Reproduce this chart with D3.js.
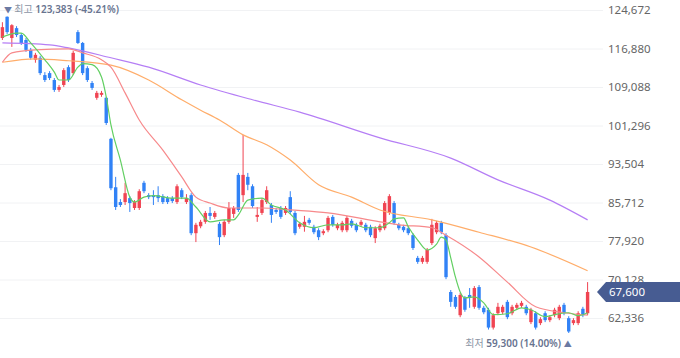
<!DOCTYPE html>
<html><head><meta charset="utf-8">
<script src="https://cdn.jsdelivr.net/npm/d3@7"></script>
<style>html,body{margin:0;padding:0;background:#fff;} svg{display:block;}</style>
</head><body><svg id="c" width="680" height="358"></svg>
<script>
// ---- data (daily candles, oldest -> newest) ----
const open = [
119000,123300,119000,121000,119600,118600,116600,114600,115000,111500,
111900,110500,108500,109500,113100,111900,120200,118000,112900,109900,
106900,107500,106900,98600,88800,85800,85800,86600,84600,84600,
89700,87200,87200,87200,87000,86600,86600,85800,88200,85800,
87200,79500,80900,81800,83600,82800,81400,79100,81800,83400,
91300,87200,90900,89000,82800,83600,85800,85200,84200,84600,
83600,86800,83600,80800,80800,82200,80800,80100,79500,80100,
82800,80500,80100,80100,82000,81200,81200,81200,80800,78500,
80100,80500,83600,85600,81200,80800,80500,79100,74500,73700,
73700,77500,79700,81600,79100,67600,66600,62900,66400,67000,
64600,68600,64400,64000,60400,63300,63500,65600,63300,64400,
64800,64600,61500,63300,61300,63300,61900,62900,62300,65000,
62300,61300,61300,64200,63300];
const close = [
121200,120200,121600,119600,118000,116600,115000,115600,111900,110500,
110900,108500,109100,112500,110500,116000,118000,111900,110500,108900,
107900,107900,101800,88600,84800,85200,87600,85600,85800,88000,
88000,86800,86800,86600,85800,85800,86000,89000,86800,86600,
79500,81200,81800,83600,83000,83600,78700,81800,84600,84600,
84200,91300,89300,85000,83200,86200,88200,83200,83800,82800,
84600,83800,79500,81400,81800,81600,79700,78700,79900,82600,
81200,81200,81600,82600,81000,80100,81800,80100,79100,80500,
81000,85600,87000,81600,80500,80100,79500,76500,73700,74500,
76100,81200,81600,79700,70600,65600,64600,67000,64000,66400,
68400,64400,63500,60400,62900,64600,64600,62500,64600,65000,
65400,63300,64000,60400,62100,61900,62500,64000,64600,63300,
59600,61900,63300,62900,67600];
const high = [
122200,123383,121800,121400,120000,119000,117000,116000,115400,112100,
112300,110900,109500,112900,113500,116400,120600,118200,113300,110300,
108300,108300,107100,98800,90900,86400,89700,87000,86200,88400,
90100,87600,88200,89000,87400,87000,87000,89400,88600,87400,
87600,81600,82200,84000,84800,84000,81800,82200,85800,85000,
91700,99400,91700,89400,84800,86600,89000,85600,84600,85000,
85000,88000,84000,81800,83000,82600,81200,80500,80300,83000,
83200,81600,82000,83000,82400,81600,82200,81600,81200,80900,
81400,86000,87400,86000,81600,81200,80900,79500,74900,74900,
76500,82400,82000,82000,79500,68000,67000,67400,66800,68400,
68800,69000,64800,64400,63300,65400,65000,66000,65000,65400,
65800,65000,64400,63700,62500,63700,62900,64400,65000,65400,
62700,62300,63700,64600,69600];
const low = [
118600,119800,117200,119200,117600,116200,114600,114000,111500,110100,
110500,108100,108100,109100,110100,111500,117800,111500,110100,108500,
106500,107100,101400,88200,84200,84800,85200,83800,84200,84200,
87600,86400,85200,85800,85400,85400,85600,85400,86400,85400,
79100,77700,80500,81400,82200,82400,77100,78700,81400,82600,
83800,85800,88200,84600,81800,83200,85400,81600,83400,82400,
83200,83400,79100,80400,79800,81200,79300,78100,79100,79700,
80800,80100,79700,79700,80600,79700,80800,79700,78700,77500,
79700,80100,83200,81200,80100,79700,79100,76100,73300,73300,
73300,77100,79300,79300,70200,64600,64200,62500,63600,64400,
64200,64000,63100,60000,60000,62900,63100,62100,62900,64000,
64400,62900,61100,60000,60900,61500,61500,62500,61900,62900,
59300,60900,60900,62500,62900];

// moving averages: [candle index, value]
const ma5 = [[0,119200],[3,120000],[4,120000],[6,118000],[9,114600],[11,112100],[12,110500],[14,110500],
[16,113100],[17,113800],[19,113600],[21,111100],[22,107100],[23,101400],[25,94300],[27,86800],[28,85800],
[30,86800],[32,87100],[36,86600],[39,86600],[41,84800],[44,81800],[47,82200],[49,82200],[50,83200],
[52,86200],[55,86600],[57,85200],[60,84200],[63,81600],[66,80600],[69,81200],[72,81200],[74,81400],
[77,80600],[80,80600],[82,81600],[83,82400],[85,82600],[86,80800],[88,78100],[90,76100],[92,77300],
[93,78700],[94,78100],[95,74500],[96,70600],[97,67600],[98,66400],[100,66600],[102,65400],[104,63000],
[107,63200],[110,64400],[112,64000],[115,62600],[117,63000],[120,63400],[122,62800],[124,63400]];
const ma20 = [[0,114100],[2,116000],[7,116600],[14,116800],[17,116000],[21,114600],[23,113100],[26,107900],
[29,102400],[34,96300],[38,90900],[41,86800],[44,85600],[48,84600],[55,84600],[61,84200],[69,83600],
[80,81800],[84,81200],[91,80600],[94,79100],[101,74700],[107,69600],[113,64600],[119,63400],[124,62900]];
const ma60 = [[0,114100],[7,114800],[14,114400],[23,113500],[31,110500],[38,106500],[42,104400],[46,102400],
[51,99400],[56,97400],[61,94300],[67,89300],[74,86800],[80,84200],[91,82200],[101,79700],[112,76700],[124,71900]];
const ma120 = [[0,118000],[10,117600],[14,117000],[23,115000],[31,113100],[42,109500],[53,106500],[63,104000],
[80,98800],[95,94700],[105,90300],[116,86200],[124,82200]];

const tickValues = [124672,116880,109088,101296,93504,85712,77920,70128,62336];
const lastPrice = 67600;
const highIndex = 1, highLabel = "최고", highText = "123,383 (-45.21%)";
const lowIndex = 120, lowLabel = "최저", lowText = "59,300 (14.00%)";

// ---- drawing ----
const UP = "#f04452", DOWN = "#3182f6";
const FONT = "'Noto Sans','Noto Sans CJK KR',sans-serif";
const svg = d3.select("#c");
svg.append("rect").attr("width",680).attr("height",358).attr("fill","#fff");

const idx = d3.range(open.length);
const x = d3.scalePoint().domain(idx).range([2.4, 587.6]);
const y = d3.scaleLinear().domain([62336,124672]).range([318,10]);

const axis = d3.axisRight(y).tickValues(tickValues).tickSize(603).tickPadding(5)
  .tickFormat(d3.format(","));
const ga = svg.append("g").call(axis);
ga.select(".domain").remove();
ga.selectAll(".tick line").attr("stroke","#f1f2f4");
ga.selectAll(".tick text").attr("fill","#666").attr("font-size","11.5px")
  .attr("font-family",FONT);

const cg = svg.append("g");
idx.forEach(i=>{
  const col = close[i] >= open[i] ? UP : DOWN;
  cg.append("line").attr("x1",x(i)).attr("x2",x(i)).attr("y1",y(high[i])).attr("y2",y(low[i]))
    .attr("stroke",col).attr("stroke-width",1);
  const yt = y(Math.max(open[i],close[i])), yb = y(Math.min(open[i],close[i]));
  cg.append("rect").attr("x",x(i)-1.7).attr("width",3.4).attr("y",yt)
    .attr("height",Math.max(1,yb-yt)).attr("fill",col);
});

const line = d3.line().x(d=>x(d[0])).y(d=>y(d[1])).curve(d3.curveMonotoneX);
[[ma120,"#b57ef5"],[ma60,"#ffad6a"],[ma20,"#f7898b"],[ma5,"#62cf62"]].forEach(([d,c])=>{
  svg.append("path").datum(d).attr("d",line).attr("fill","none").attr("stroke",c).attr("stroke-width",1.2);
});

// high annotation
const th = svg.append("text").attr("x",x(highIndex)-3).attr("y",9.5).attr("dy","0.35em")
  .attr("font-family",FONT).attr("font-size","10px");
th.append("tspan").text("▼ ").attr("fill","#6b7aa3").attr("font-size","8px");
th.append("tspan").text(highLabel+" ").attr("fill","#8b95a5");
th.append("tspan").text(highText).attr("fill","#67738f").attr("font-weight",600);

// low annotation
const tl = svg.append("text").attr("x",x(lowIndex)+3).attr("y",343).attr("dy","0.35em")
  .attr("text-anchor","end").attr("font-family",FONT).attr("font-size","10px");
tl.append("tspan").text(lowLabel+" ").attr("fill","#8b95a5");
tl.append("tspan").text(lowText+" ").attr("fill","#67738f").attr("font-weight",600);
tl.append("tspan").text("▲").attr("fill","#6b7aa3").attr("font-size","8px");

// last price tag
const yp = y(lastPrice);
svg.append("path").attr("d",`M597,${yp} L606,${yp-10} L680,${yp-10} L680,${yp+10} L606,${yp+10} Z`)
  .attr("fill","#475c92");
svg.append("text").attr("x",609).attr("y",yp).attr("dy","0.35em").attr("fill","#fff")
  .attr("font-family",FONT).attr("font-size","11.5px").text(d3.format(",")(lastPrice));
</script></body></html>
